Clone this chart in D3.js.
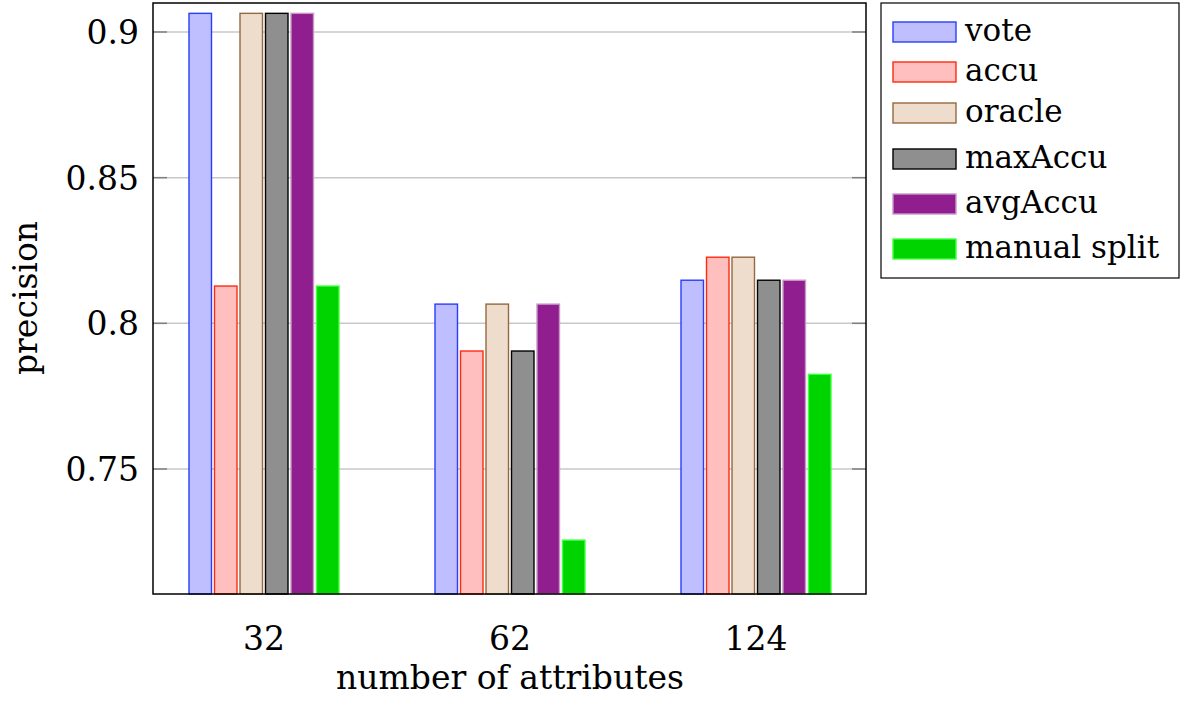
<!DOCTYPE html>
<html>
<head>
<meta charset="utf-8">
<script src="https://cdn.jsdelivr.net/npm/d3@7"></script>
<style>
  body { margin: 0; background: #fff; }
  svg text { font-family: "DejaVu Serif", "Liberation Serif", serif; fill: #000; }
</style>
</head>
<body>
<svg id="chart" width="1180" height="702"></svg>
<script>
// chart data
const categories = ["32", "62", "124"];
const seriesNames = ["vote", "accu", "oracle", "maxAccu", "avgAccu", "manual split"];
const vote        = [0.9064, 0.8066, 0.8148];
const accu        = [0.8128, 0.7905, 0.8227];
const oracle      = [0.9064, 0.8066, 0.8227];
const maxAccu     = [0.9064, 0.7905, 0.8148];
const avgAccu     = [0.9064, 0.8066, 0.8148];
const manualSplit = [0.8128, 0.7256, 0.7825];
const yTicks = [0.75, 0.8, 0.85, 0.9];

const seriesValues = [vote, accu, oracle, maxAccu, avgAccu, manualSplit];
const fills   = ["#bfbfff", "#ffbfbf", "#eeddcc", "#8f8f8f", "#911e8f", "#00d400"];
const strokes = ["#2a3cff", "#ff2a10", "#94693f", "#000000", "#c79ac6", "#40ff40"];

const svg = d3.select("#chart");
const plot = {left: 153, right: 866, top: 3, bottom: 594};
const axisFont = "33px", legendFont = "31px";

// x: category centres, with the pgfplots-like enlarged limits
const x = d3.scalePoint()
  .domain(categories)
  .range([264, 756]);
const y = d3.scaleLinear()
  .domain([0.7071, 0.90995])
  .range([plot.bottom, plot.top]);

const barStep = 25.5, barW = 22.5;
const offset = d3.scaleLinear().domain([0, seriesNames.length - 1])
  .range([-barStep * 2.5, barStep * 2.5]);

// grid lines
svg.append("g").selectAll("line")
  .data(yTicks).enter().append("line")
  .attr("x1", plot.left).attr("x2", plot.right)
  .attr("y1", d => y(d)).attr("y2", d => y(d))
  .attr("stroke", "#c8c8c8").attr("stroke-width", 1.5);

// bars
seriesValues.forEach((vals, s) => {
  svg.append("g").selectAll("rect")
    .data(vals).enter().append("rect")
    .attr("x", (d, i) => x(categories[i]) + offset(s) - barW / 2)
    .attr("y", d => y(d))
    .attr("width", barW)
    .attr("height", d => plot.bottom - y(d))
    .attr("fill", fills[s])
    .attr("stroke", strokes[s])
    .attr("stroke-width", 1.4);
});

// ticks on left and right
svg.append("g").selectAll("line")
  .data(yTicks).enter().append("line")
  .attr("x1", plot.left).attr("x2", plot.left + 14)
  .attr("y1", d => y(d)).attr("y2", d => y(d))
  .attr("stroke", "#808080").attr("stroke-width", 1.5);
svg.append("g").selectAll("line")
  .data(yTicks).enter().append("line")
  .attr("x1", plot.right - 14).attr("x2", plot.right)
  .attr("y1", d => y(d)).attr("y2", d => y(d))
  .attr("stroke", "#808080").attr("stroke-width", 1.5);

// frame
svg.append("rect")
  .attr("x", plot.left).attr("y", plot.top)
  .attr("width", plot.right - plot.left).attr("height", plot.bottom - plot.top)
  .attr("fill", "none").attr("stroke", "#000").attr("stroke-width", 1.5);

// y tick labels
svg.append("g").selectAll("text")
  .data(yTicks).enter().append("text")
  .attr("x", 139).attr("y", d => y(d))
  .attr("dy", "0.36em")
  .attr("text-anchor", "end")
  .style("font-size", axisFont)
  .text(d => d3.format("")(d));

// x tick labels
svg.append("g").selectAll("text")
  .data(categories).enter().append("text")
  .attr("x", d => x(d)).attr("y", 650)
  .attr("text-anchor", "middle")
  .style("font-size", axisFont)
  .text(d => d);

// axis titles
svg.append("text")
  .attr("x", 510).attr("y", 689)
  .attr("text-anchor", "middle")
  .style("font-size", axisFont)
  .text("number of attributes");
svg.append("text")
  .attr("transform", "translate(37,298) rotate(-90)")
  .attr("text-anchor", "middle")
  .style("font-size", axisFont)
  .text("precision");

// legend
const legend = svg.append("g");
legend.append("rect")
  .attr("x", 881).attr("y", 3).attr("width", 298).attr("height", 275)
  .attr("fill", "#fff").attr("stroke", "#000").attr("stroke-width", 1.2);
const rowY = [32, 72, 113, 159, 204, 249];
const rows = legend.selectAll("g.row")
  .data(seriesNames).enter().append("g")
  .attr("transform", (d, i) => "translate(0," + rowY[i] + ")");
rows.append("rect")
  .attr("x", 893).attr("y", -10).attr("width", 63).attr("height", 20)
  .attr("fill", (d, i) => fills[i])
  .attr("stroke", (d, i) => strokes[i])
  .attr("stroke-width", 1.4);
rows.append("text")
  .attr("x", 965).attr("y", 0).attr("dy", "0.3em")
  .style("font-size", legendFont)
  .text(d => d);
</script>
</body>
</html>
